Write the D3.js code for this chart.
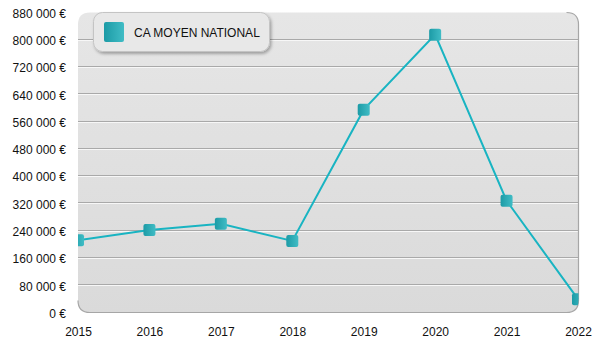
<!DOCTYPE html>
<html>
<head>
<meta charset="utf-8">
<script src="https://cdn.jsdelivr.net/npm/d3@7"></script>
<style>
  html, body { margin: 0; padding: 0; background: #ffffff; }
  svg { display: block; font-family: "Liberation Sans", Arial, sans-serif; }
</style>
</head>
<body>
<svg id="chart" width="600" height="350"></svg>
<script>
// Chiffre d'affaires moyen national par année
const years = ["2015", "2016", "2017", "2018", "2019", "2020", "2021", "2022"];
const caMoyen = [212000, 242000, 260000, 210000, 595000, 815000, 328000, 39000];
const yTicks = [0, 80000, 160000, 240000, 320000, 400000, 480000, 560000, 640000, 720000, 800000, 880000];
const seriesName = "CA MOYEN NATIONAL";

const svg = d3.select("#chart");
const plot = { left: 78, right: 578, top: 12.5, bottom: 312.5 };

const x = d3.scalePoint().domain(years).range([plot.left, plot.right]);
const y = d3.scaleLinear().domain([0, 880000]).range([plot.bottom, plot.top]);

const fmt = v => d3.format(",")(v).replace(/,/g, "\u00a0") + "\u00a0€";

const defs = svg.append("defs");
const bg = defs.append("linearGradient").attr("id", "bg").attr("x1", 0).attr("y1", 0).attr("x2", 0).attr("y2", 1);
bg.append("stop").attr("offset", "0%").attr("stop-color", "#e6e6e6");
bg.append("stop").attr("offset", "100%").attr("stop-color", "#dadada");

const mk = defs.append("linearGradient").attr("id", "mk").attr("x1", 0).attr("y1", 0).attr("x2", 1).attr("y2", 0);
mk.append("stop").attr("offset", "0%").attr("stop-color", "#1c9ba6");
mk.append("stop").attr("offset", "100%").attr("stop-color", "#40bcc5");

const shadow = defs.append("filter").attr("id", "shadow").attr("x", "-20%").attr("y", "-30%").attr("width", "150%").attr("height", "180%");
shadow.append("feDropShadow").attr("dx", 1.5).attr("dy", 2).attr("stdDeviation", 1.5).attr("flood-color", "#000").attr("flood-opacity", 0.3);

const r = 12;
const areaPath = (() => {
  const l = plot.left, rt = plot.right + 0.5, t = plot.top, b = plot.bottom;
  return `M${l + r},${t} H${rt - r} Q${rt},${t} ${rt},${t + r} V${b - r} Q${rt},${b} ${rt - r},${b} H${l + r} Q${l},${b} ${l},${b - r} V${t + r} Q${l},${t} ${l + r},${t} Z`;
})();

defs.append("clipPath").attr("id", "clip").append("path").attr("d", areaPath);

// Plot background
svg.append("path").attr("d", areaPath).attr("fill", "url(#bg)");

// Grid lines (embossed: gray line with a white line below)
const grid = svg.append("g").attr("clip-path", "url(#clip)");
grid.selectAll("line.g1").data(yTicks.filter(v => v > 0 && v < 880000)).join("line")
  .attr("x1", plot.left).attr("x2", plot.right + 1)
  .attr("y1", d => Math.round(y(d)) - 0.5).attr("y2", d => Math.round(y(d)) - 0.5)
  .attr("stroke", "#a9a9a9").attr("stroke-width", 1);
grid.selectAll("line.g2").data(yTicks.filter(v => v > 0 && v < 880000)).join("line")
  .attr("x1", plot.left).attr("x2", plot.right + 1)
  .attr("y1", d => Math.round(y(d)) + 0.5).attr("y2", d => Math.round(y(d)) + 0.5)
  .attr("stroke", "#f7f7f7").attr("stroke-width", 1);

// Right and bottom border
const l = plot.left, rt = plot.right + 0.5, t = plot.top, b = plot.bottom;
svg.append("path")
  .attr("d", `M${rt - r},${t} Q${rt},${t} ${rt},${t + r} V${b - r} Q${rt},${b} ${rt - r},${b} H${l + r} Q${l},${b} ${l},${b - r}`)
  .attr("fill", "none").attr("stroke", "#a6a6a6").attr("stroke-width", 1.2);

// Y axis labels
const yAxis = svg.append("g").attr("transform", `translate(${66},1)`)
  .call(d3.axisLeft(y).tickValues(yTicks).tickFormat(fmt).tickSize(0).tickPadding(0));
yAxis.select(".domain").remove();
yAxis.selectAll("text").attr("font-size", 12).attr("fill", "#111").attr("font-family", "Liberation Sans, Arial, sans-serif");

// X axis labels
const xAxis = svg.append("g").attr("transform", `translate(0,${327.5})`)
  .call(d3.axisBottom(x).tickSize(0).tickPadding(0));
xAxis.select(".domain").remove();
xAxis.selectAll("text").attr("font-size", 12).attr("fill", "#111").attr("font-family", "Liberation Sans, Arial, sans-serif");

// Series line and markers
const data = years.map((yr, i) => ({ yr, v: caMoyen[i] }));
const series = svg.append("g").attr("clip-path", "url(#clip)");
series.append("path").datum(data)
  .attr("d", d3.line().x(d => x(d.yr)).y(d => y(d.v)))
  .attr("fill", "none").attr("stroke", "#19b4c2").attr("stroke-width", 2);
series.selectAll("rect").data(data).join("rect")
  .attr("x", d => x(d.yr) - 6).attr("y", d => y(d.v) - 6)
  .attr("width", 12).attr("height", 12).attr("rx", 2)
  .attr("fill", "url(#mk)");

// Legend
const lg = svg.append("g");
lg.append("rect").attr("x", 93.5).attr("y", 12.5).attr("width", 176).attr("height", 39).attr("rx", 9)
  .attr("fill", "#e8e8e8").attr("stroke", "#c4c4c4").attr("stroke-width", 1).attr("filter", "url(#shadow)");
lg.append("rect").attr("x", 104).attr("y", 22).attr("width", 20).attr("height", 20).attr("rx", 2).attr("fill", "url(#mk)");
lg.append("text").attr("x", 134).attr("y", 37).attr("font-size", 12).attr("fill", "#111").text(seriesName);
</script>
</body>
</html>
